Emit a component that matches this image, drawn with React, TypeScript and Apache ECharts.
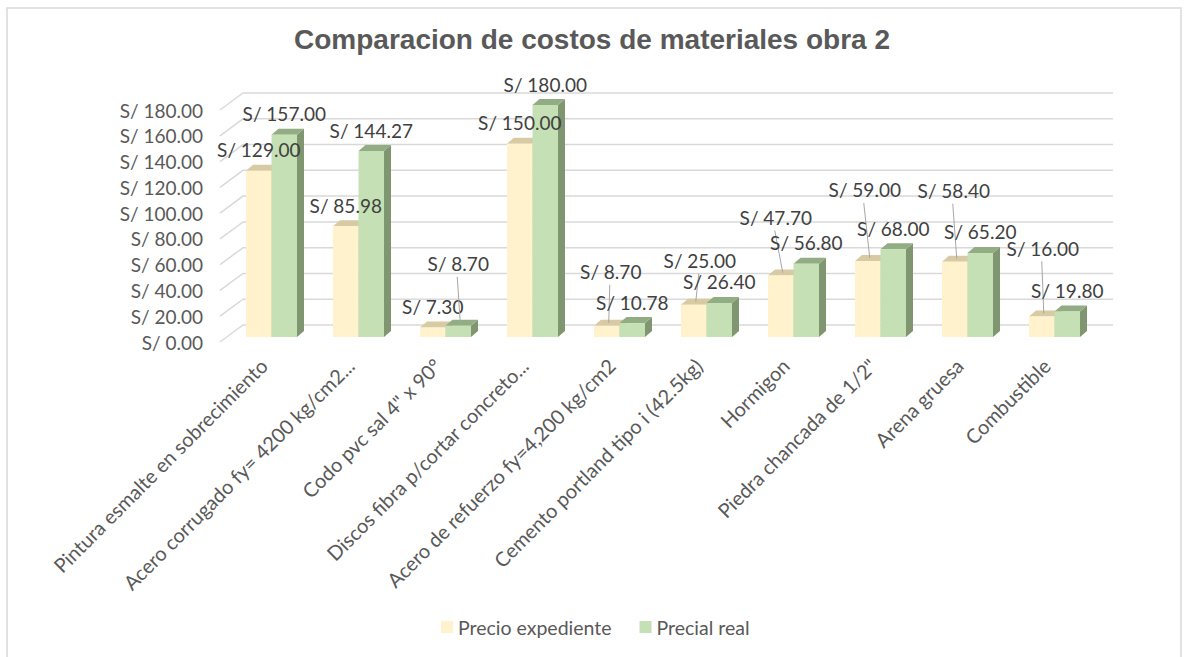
import React, { useEffect, useRef } from 'react';
import * as echarts from 'echarts';

const categories = [
  'Pintura esmalte en sobrecimiento',
  'Acero corrugado fy= 4200 kg/cm2...',
  'Codo pvc sal 4" x 90°',
  'Discos fibra p/cortar concreto...',
  'Acero de refuerzo fy=4,200 kg/cm2',
  'Cemento portland tipo i (42.5kg)',
  'Hormigon',
  'Piedra chancada de 1/2"',
  'Arena gruesa',
  'Combustible',
];
const seriesNames = ['Precio expediente', 'Precial real'];
const precioExpediente = [129, 85.98, 7.3, 150, 8.7, 25, 47.7, 59, 58.4, 16];
const precialReal = [157, 144.27, 8.7, 180, 10.78, 26.4, 56.8, 68, 65.2, 19.8];
const yTicks = [0, 20, 40, 60, 80, 100, 120, 140, 160, 180];

// manual label placement (layout, px)
const yellowLabelLift = [0, 0, 0, 0, 33, 23, 37, 50, 50, 47];
const yellowLabelShift = [0, 0, 0, 0, 4, 6, -5, -3, -1, 1];
const greenLabelLift = [0, 0, 41, 0, 0, 0, 0, 0, 0, 0];
const greenLabelShift = [0, 0, 0, 0, 0, 0, 0, 0, 0, 0];

const FONT = 'Lato';
const palettes = [
  { front: '#FFF2CC', top: '#D8CAA3', side: '#BFB28C' },
  { front: '#C5E0B4', top: '#92AD83', side: '#7F9670' },
];
const BAR_W = 25.5;
const DEPTH_X = 7;
const DEPTH_Y = 6;

const fmt = (v: number) => 'S/ ' + v.toFixed(2);

function barGeom(api: any, kind: number) {
  const i = api.value(0);
  const v = api.value(1);
  const pv = api.coord([i, v]);
  const p0 = api.coord([i, 0]);
  const gc = pv[0] + 8;
  const x0 = kind === 0 ? gc - BAR_W : gc;
  const yTop = pv[1] - 5;
  const yBot = p0[1] - 5;
  return { i, v, x0, yTop, yBot, cx: x0 + BAR_W / 2 };
}

function makeBarRender(kind: number) {
  const c = palettes[kind];
  return (params: any, api: any) => {
    const { x0, yTop, yBot } = barGeom(api, kind);
    const x1 = x0 + BAR_W;
    return {
      type: 'group',
      children: [
        {
          type: 'polygon',
          shape: { points: [[x1, yTop], [x1 + DEPTH_X, yTop - DEPTH_Y], [x1 + DEPTH_X, yBot - DEPTH_Y], [x1, yBot]] },
          style: { fill: c.side },
        },
        {
          type: 'polygon',
          shape: { points: [[x0, yTop], [x1, yTop], [x1 + DEPTH_X, yTop - DEPTH_Y], [x0 + DEPTH_X, yTop - DEPTH_Y]] },
          style: { fill: c.top },
        },
        {
          type: 'rect',
          shape: { x: x0, y: yTop, width: BAR_W, height: yBot - yTop },
          style: { fill: c.front },
        },
      ],
    };
  };
}

function makeLabelRender(kind: number, lifts: number[], shifts: number[]) {
  return (params: any, api: any) => {
    const { i, v, yTop, cx } = barGeom(api, kind);
    const lift = lifts[i];
    const lx = cx + shifts[i];
    const ly = yTop - 21 - lift;
    const children: any[] = [];
    if (lift > 0) {
      children.push({
        type: 'line',
        shape: { x1: lx - 1, y1: ly + 13, x2: cx + 2, y2: yTop - 3 },
        style: { stroke: '#A6A6A6', lineWidth: 1 },
      });
    }
    children.push({
      type: 'text',
      x: lx,
      y: ly,
      style: {
        text: fmt(v),
        fill: '#404040',
        font: `19px ${FONT}`,
        align: 'center',
        verticalAlign: 'middle',
      },
    });
    return { type: 'group', children };
  };
}

function gridRender(params: any, api: any) {
  const cs = params.coordSys;
  const v = api.value(1);
  const p = api.coord([0, v]);
  const x = cs.x;
  const y = p[1];
  return {
    type: 'polyline',
    shape: { points: [[x, y], [x + 23, y - 17], [x + cs.width + 23, y - 17]] },
    style: { stroke: '#D9D9D9', lineWidth: 1.5, fill: 'none' },
  };
}

export default function App() {
  const ref = useRef<HTMLDivElement>(null);
  useEffect(() => {
    if (!ref.current) return;
    const chart = echarts.init(ref.current, undefined, { renderer: 'svg' });
    const yellowData = precioExpediente.map((v, i) => [i, v]);
    const greenData = precialReal.map((v, i) => [i, v]);
    chart.setOption({
      animation: false,
      backgroundColor: '#ffffff',
      title: {
        text: 'Comparacion de costos de materiales obra 2',
        left: 'center',
        top: 25,
        padding: 0,
        textStyle: { fontFamily: 'Liberation Sans', fontWeight: 'bold', fontSize: 28, color: '#595959' },
      },
      legend: {
        left: 441,
        top: 617,
        padding: 0,
        itemWidth: 12,
        itemHeight: 12,
        itemGap: 28,
        itemStyle: { borderWidth: 0 },
        textStyle: { fontFamily: FONT, fontSize: 19.5, color: '#595959' },
        data: [
          { name: seriesNames[0], icon: 'rect', itemStyle: { color: palettes[0].front } },
          { name: seriesNames[1], icon: 'rect', itemStyle: { color: palettes[1].front } },
        ],
      },
      graphic: [
        {
          type: 'rect',
          shape: { x: 7, y: 8, width: 1174, height: 660 },
          style: { fill: 'none', stroke: '#D9D9D9', lineWidth: 1.5 },
          silent: true,
        },
      ],
      grid: { left: 220, top: 110, width: 870, height: 232 },
      xAxis: {
        type: 'category',
        data: categories,
        boundaryGap: true,
        axisLine: { show: false },
        axisTick: { show: false },
        axisLabel: {
          interval: 0,
          rotate: 45,
          margin: 20,
          fontFamily: FONT,
          fontSize: 20,
          color: '#595959',
        },
      },
      yAxis: {
        type: 'value',
        min: 0,
        max: 180,
        interval: 20,
        axisLine: { show: false },
        axisTick: { show: false },
        splitLine: { show: false },
        axisLabel: {
          margin: 17,
          fontFamily: FONT,
          fontSize: 19,
          color: '#595959',
          formatter: (v: number) => fmt(v),
        },
      },
      series: [
        {
          type: 'custom',
          z: 1,
          silent: true,
          renderItem: gridRender,
          data: yTicks.map((t) => [0, t]),
          encode: { x: 0, y: 1 },
        },
        {
          type: 'custom',
          name: seriesNames[0],
          z: 2,
          itemStyle: { color: palettes[0].front },
          renderItem: makeBarRender(0),
          data: yellowData,
          encode: { x: 0, y: 1 },
        },
        {
          type: 'custom',
          name: seriesNames[1],
          z: 2,
          itemStyle: { color: palettes[1].front },
          renderItem: makeBarRender(1),
          data: greenData,
          encode: { x: 0, y: 1 },
        },
        {
          type: 'custom',
          z: 3,
          silent: true,
          renderItem: makeLabelRender(0, yellowLabelLift, yellowLabelShift),
          data: yellowData,
          encode: { x: 0, y: 1 },
        },
        {
          type: 'custom',
          z: 3,
          silent: true,
          renderItem: makeLabelRender(1, greenLabelLift, greenLabelShift),
          data: greenData,
          encode: { x: 0, y: 1 },
        },
      ],
    });
    return () => chart.dispose();
  }, []);
  return (
    <div
      ref={ref}
      style={{ position: 'absolute', left: 0, top: 0, width: 1184, height: 657 }}
    />
  );
}
